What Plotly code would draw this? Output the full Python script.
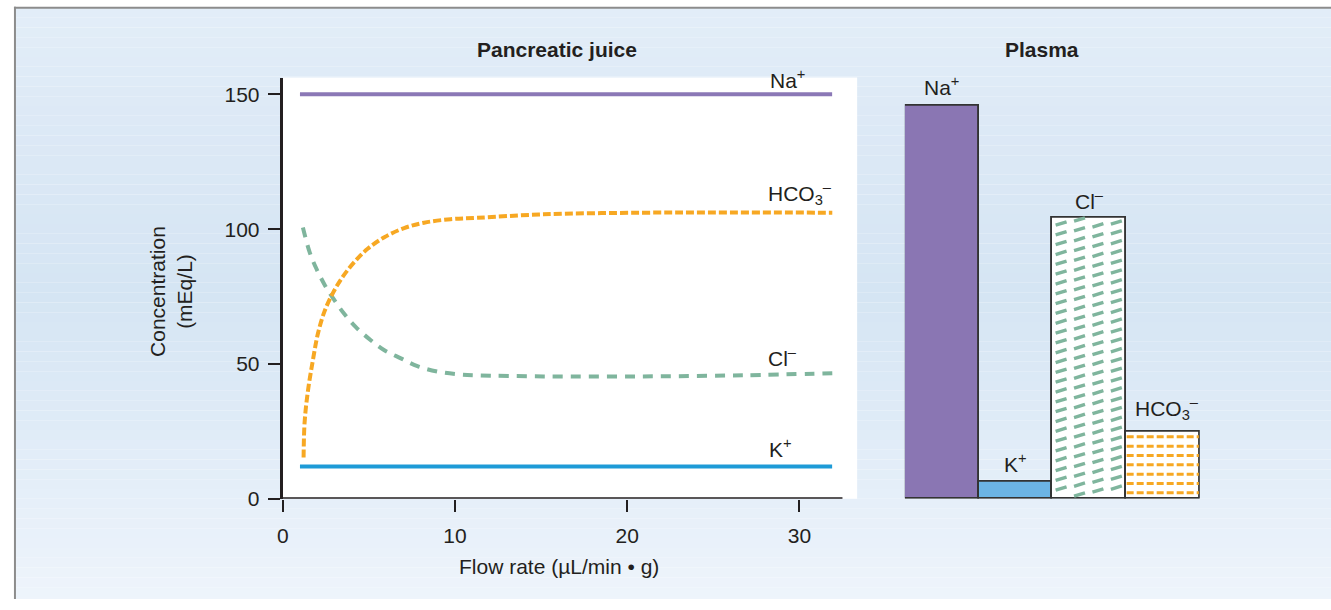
import plotly.graph_objects as go

# ---------------- data ----------------
flow_na = [1.0, 31.9]
na_juice = [150, 150]
flow_k = [1.0, 31.9]
k_juice = [12, 12]

hco3_x = [1.21, 1.27, 1.46, 1.75, 2.04, 2.43, 2.91, 3.49, 4.16, 4.93, 5.90, 7.05, 8.21, 9.75, 11.29, 15.14, 20.92, 26.0, 31.91]
hco3_y = [15.3, 28.4, 39.9, 51.4, 61.2, 69.6, 76.3, 82.4, 87.8, 92.7, 97.0, 100.4, 102.4, 103.7, 104.2, 105.5, 106.1, 106.2, 106.1]

cl_x = [1.17, 1.56, 1.95, 2.43, 2.91, 3.58, 4.26, 5.13, 5.90, 6.86, 7.82, 8.98, 10.13, 11.29, 15.14, 20.92, 26.71, 31.91]
cl_y = [100.6, 91.5, 85.4, 79.4, 74.5, 68.5, 63.6, 58.7, 55.1, 52.1, 49.2, 47.2, 46.2, 45.8, 45.4, 45.4, 45.8, 46.6]

plasma_ions = ["Na+", "K+", "Cl-", "HCO3-"]
plasma_vals = [146, 6.5, 104.3, 24.8]

x_ticks = [0, 10, 20, 30]
y_ticks = [0, 50, 100, 150]

# ---------------- geometry helpers ----------------
W, H = 1331, 610
def px(p):
    return p / W
def py(p):
    return 1 - p / H

Y_TOP = 156.2          # data value at top of plot area
PXY = (508 - 79) / Y_TOP  # pixels per y unit
PXB = 74.0             # pixels per bar unit

TXT = "#231f20"
FONT = "Liberation Sans, Arial, Helvetica, sans-serif"
FS = 21
ORANGE = "#f7a823"
GREEN = "#7fb59d"
PURPLE = "#8b78b6"
BLUE = "#1e9bd7"

fig = go.Figure()

# ---------------- left: pancreatic juice ----------------
fig.add_trace(go.Scatter(x=flow_na, y=na_juice, mode="lines",
                         line=dict(color=PURPLE, width=4), xaxis="x", yaxis="y"))
fig.add_trace(go.Scatter(x=flow_k, y=k_juice, mode="lines",
                         line=dict(color=BLUE, width=4), xaxis="x", yaxis="y"))
fig.add_trace(go.Scatter(x=cl_x, y=cl_y, mode="lines", line_shape="spline",
                         line=dict(color=GREEN, width=4, dash="10px,8px"), xaxis="x", yaxis="y"))
fig.add_trace(go.Scatter(x=hco3_x, y=hco3_y, mode="lines", line_shape="spline",
                         line=dict(color=ORANGE, width=4, dash="8px,3px"), xaxis="x", yaxis="y"))

# ---------------- right: plasma bars ----------------
bar_x = list(range(len(plasma_vals)))
fig.add_trace(go.Bar(x=bar_x, y=plasma_vals, width=1,
                     marker=dict(color=["#8a76b3", "#6cb4e4", "white", "white"],
                                 line=dict(color="#333333", width=1.6)),
                     xaxis="x2", yaxis="y2"))

# Cl- hatch: short slanted green dashes (derived from bar extent)
ci = plasma_ions.index("Cl-")
top = plasma_vals[ci]
col_off = [-0.38, -0.13, 0.12, 0.37]
stagger_px = [0, -4, 2, -1]
hx, hy = [], []
for c, off in enumerate(col_off):
    yy = top - (6 + stagger_px[c]) / PXY
    while yy > 4 / PXY:
        xc = ci + off
        hx += [xc - 5.5 / PXB, xc + 5.5 / PXB, None]
        hy += [yy - 1.7 / PXY, yy + 1.7 / PXY, None]
        yy -= 10 / PXY
fig.add_trace(go.Scatter(x=hx, y=hy, mode="lines", line=dict(color=GREEN, width=3.4),
                         xaxis="x2", yaxis="y2"))

# HCO3- hatch: horizontal orange dashed rows
hi = plasma_ions.index("HCO3-")
top = plasma_vals[hi]
rx, ry = [], []
yy = top - 5 / PXY
while yy > 3 / PXY:
    rx += [hi - 0.49, hi + 0.49, None]
    ry += [yy, yy, None]
    yy -= 9.5 / PXY
fig.add_trace(go.Scatter(x=rx, y=ry, mode="lines", line=dict(color=ORANGE, width=3, dash="7px,3px"),
                         xaxis="x2", yaxis="y2"))
# redraw bar outlines on top of hatch
fig.add_trace(go.Bar(x=bar_x, y=plasma_vals, width=1,
                     marker=dict(color="rgba(0,0,0,0)", line=dict(color="#333333", width=1.6)),
                     xaxis="x2", yaxis="y2"))

# ---------------- background gradient ----------------
stops = [(0, (227, 238, 248)), (120, (221, 233, 246)), (300, (213, 229, 243)),
         (430, (223, 235, 247)), (610, (238, 244, 251))]
def col_at(y):
    for (y0, c0), (y1, c1) in zip(stops[:-1], stops[1:]):
        if y0 <= y <= y1:
            t = (y - y0) / (y1 - y0)
            return "rgb(%d,%d,%d)" % tuple(round(a + (b - a) * t) for a, b in zip(c0, c1))
    return "rgb(%d,%d,%d)" % stops[-1][1]

shapes = []
band = 10
y = 8
while y < H:
    y2 = min(y + band, H)
    shapes.append(dict(type="rect", xref="paper", yref="paper", x0=px(9), x1=1.0,
                       y0=py(y2), y1=py(y), fillcolor=col_at((y + y2) / 2),
                       line=dict(width=0), layer="below"))
    y = y2
# frame lines
shapes.append(dict(type="line", xref="paper", yref="paper", x0=px(9), x1=px(9), y0=0, y1=py(7),
                   line=dict(color="#8c8c8c", width=2), layer="below"))
shapes.append(dict(type="line", xref="paper", yref="paper", x0=px(8), x1=1, y0=py(8), y1=py(8),
                   line=dict(color="#8c8c8c", width=2), layer="below"))
# white plot area of the juice panel
shapes.append(dict(type="rect", xref="paper", yref="paper", x0=px(278), x1=px(855),
                   y0=py(508), y1=py(79), fillcolor="white", line=dict(width=0), layer="below"))
# x axis line (shorter than plot area)
shapes.append(dict(type="line", xref="x", yref="y", x0=0, x1=32.5, y0=0, y1=0,
                   line=dict(color=TXT, width=3)))

# ---------------- annotations ----------------
def ann(text, x, y, size=FS, bold=False, **kw):
    t = "<b>%s</b>" % text if bold else text
    d = dict(text=t, xref="paper", yref="paper", x=px(x), y=py(y), showarrow=False,
             font=dict(family=FONT, size=size, color=TXT), xanchor="center", yanchor="middle")
    d.update(kw)
    return d

annotations = [
    ann("Pancreatic juice", 553, 50, bold=True),
    ann("Plasma", 1041, 50, bold=True),
    ann("Na<sup>+</sup>", 785, 80),
    ann("HCO<sub>3</sub><sup>–</sup>", 798, 197),
    ann("Cl<sup>–</sup>", 780, 364),
    ann("K<sup>+</sup>", 778, 456),
    ann("Na<sup>+</sup>", 940, 88),
    ann("K<sup>+</sup>", 1014, 471),
    ann("Cl<sup>–</sup>", 1088, 204),
    ann("HCO<sub>3</sub><sup>–</sup>", 1166, 416),
    ann("Flow rate (µL/min • g)", 556, 577),
    ann("Concentration<br>(mEq/L)", 165, 297, textangle=-90),
]

axis_font = dict(family=FONT, size=FS, color=TXT)
fig.update_layout(
    width=W, height=H, autosize=False,
    margin=dict(l=0, r=0, t=0, b=0),
    paper_bgcolor="white", plot_bgcolor="rgba(0,0,0,0)",
    showlegend=False, shapes=shapes, annotations=annotations,
    barmode="overlay", bargap=0,
    xaxis=dict(domain=[px(278), px(855)], range=[0, (855 - 278) / 17.3],
               tickvals=x_ticks, ticks="outside", ticklen=12, tickwidth=1.5, tickcolor=TXT,
               ticklabelstandoff=6,
               showline=False, showgrid=False, zeroline=False, tickfont=axis_font,
               anchor="y", fixedrange=True),
    yaxis=dict(domain=[py(508), py(79)], range=[0, Y_TOP],
               tickvals=y_ticks, ticks="outside", ticklen=12, tickwidth=1.5, tickcolor=TXT,
               ticklabelstandoff=4,
               showline=True, linecolor=TXT, linewidth=3, showgrid=False, zeroline=False,
               tickfont=axis_font, anchor="x", fixedrange=True),
    xaxis2=dict(domain=[px(903), px(1199)], range=[-0.5, 3.5], visible=False,
                anchor="y2", fixedrange=True),
    yaxis2=dict(domain=[py(508), py(79)], range=[0, Y_TOP], visible=False,
                anchor="x2", fixedrange=True),
)

post = ("document.documentElement.style.margin='0';document.body.style.margin='0';"
        "document.documentElement.style.overflow='hidden';document.body.style.overflow='hidden';"
        "var gd=document.getElementById('{plot_id}');"
        "gd.style.position='fixed';gd.style.left='0px';gd.style.top='0px';")
fig.write_html("out.html", config={"displayModeBar": False}, post_script=post)
